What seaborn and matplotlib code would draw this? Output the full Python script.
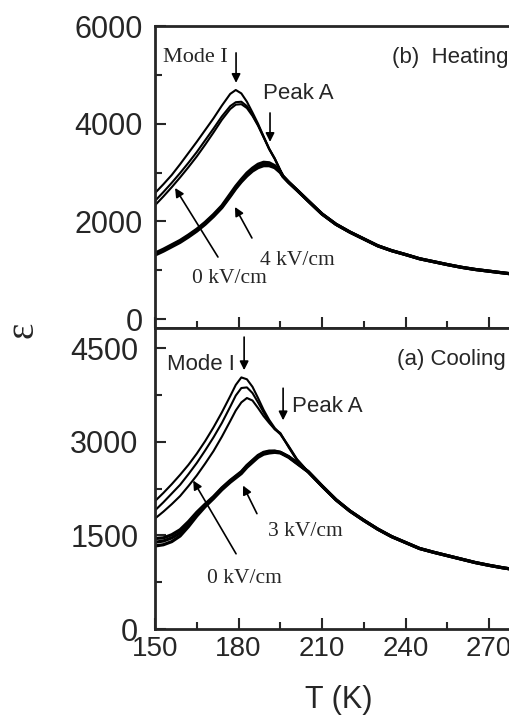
import numpy as np
import matplotlib
matplotlib.use("Agg")
import matplotlib.pyplot as plt
import seaborn as sns

# ---------------- data ----------------
# (b) Heating: rising part, one value per curve and temperature
T_heat = [150, 153, 156, 159, 162, 165, 168, 171, 174, 177, 179, 181, 183, 185, 187, 189, 191, 193, 195]
heat_0a = [2580, 2760, 2950, 3170, 3400, 3630, 3870, 4110, 4370, 4610, 4690, 4620, 4450, 4230, 4000, 3740, 3490, 3290, 3050]
heat_0b = [2420, 2600, 2790, 2990, 3200, 3420, 3660, 3900, 4150, 4360, 4440, 4450, 4360, 4180, 3970, 3730, 3480, 3280, 3040]
heat_0c = [2330, 2510, 2700, 2900, 3110, 3330, 3570, 3820, 4080, 4300, 4390, 4400, 4320, 4160, 3960, 3720, 3480, 3280, 3040]
heat_4a = [1350, 1430, 1520, 1610, 1720, 1840, 1980, 2140, 2320, 2560, 2720, 2860, 2990, 3090, 3170, 3210, 3200, 3140, 3020]
heat_4b = [1330, 1410, 1500, 1590, 1700, 1820, 1960, 2120, 2300, 2530, 2690, 2830, 2950, 3050, 3120, 3160, 3160, 3110, 3010]
heat_4c = [1310, 1390, 1480, 1570, 1680, 1800, 1940, 2100, 2280, 2510, 2670, 2810, 2930, 3030, 3100, 3140, 3140, 3100, 3000]
# common tail after the curves merge
T_heat_tail = [196, 198, 201, 205, 210, 215, 220, 225, 230, 235, 240, 245, 250, 255, 260, 265, 270, 275, 278]
heat_tail = [2920, 2800, 2640, 2420, 2150, 1940, 1780, 1640, 1500, 1400, 1320, 1235, 1175, 1115, 1060, 1015, 980, 945, 925]

# (a) Cooling
T_cool = [150, 153, 156, 159, 162, 165, 168, 171, 174, 177, 179, 181, 183, 185, 187, 189, 191, 193, 195, 198, 201]
cool_0a = [2050, 2180, 2320, 2470, 2630, 2810, 3010, 3230, 3470, 3730, 3910, 4030, 4000, 3880, 3700, 3510, 3350, 3220, 3130, 2930, 2720]
cool_0b = [1900, 2030, 2170, 2310, 2480, 2660, 2860, 3070, 3300, 3560, 3740, 3860, 3870, 3780, 3630, 3470, 3320, 3200, 3120, 2920, 2710]
cool_0c = [1770, 1880, 2000, 2130, 2290, 2460, 2650, 2850, 3080, 3330, 3500, 3630, 3700, 3660, 3540, 3410, 3300, 3200, 3140, 2910, 2700]
cool_3a = [1450, 1460, 1510, 1590, 1720, 1870, 2000, 2120, 2260, 2380, 2450, 2520, 2620, 2700, 2780, 2830, 2850, 2850, 2830, 2760, 2660]
cool_3b = [1390, 1410, 1460, 1540, 1680, 1840, 1980, 2110, 2250, 2370, 2440, 2510, 2610, 2690, 2770, 2820, 2840, 2845, 2830, 2760, 2660]
cool_3c = [1330, 1350, 1400, 1490, 1640, 1810, 1960, 2090, 2230, 2350, 2420, 2490, 2590, 2670, 2750, 2800, 2820, 2830, 2820, 2750, 2650]
T_cool_tail = [205, 210, 215, 220, 225, 230, 235, 240, 245, 250, 255, 260, 265, 270, 275, 278]
cool_tail = [2520, 2290, 2070, 1890, 1740, 1600, 1480, 1385, 1290, 1230, 1175, 1120, 1065, 1020, 980, 960]

x_ticks = [150, 180, 210, 240, 270]
heat_yticks = [0, 2000, 4000, 6000]
cool_yticks = [0, 1500, 3000, 4500]

# ---------------- style ----------------
sns.set_style("ticks")
plt.rcParams['font.family'] = ['Liberation Sans', 'DejaVu Sans']
plt.rcParams['axes.linewidth'] = 2.0

fig = plt.figure(figsize=(5.1, 7.17), dpi=100)
ax_h = fig.add_axes([0.304, 0.5425, 0.696, 0.4212])
ax_c = fig.add_axes([0.304, 0.1227, 0.696, 0.4198], sharex=ax_h)

SERIF = ['Liberation Serif', 'DejaVu Serif']


def draw_group(ax, T, curves, T_tail, tail, lw):
    for c in curves:
        sns.lineplot(x=list(T) + list(T_tail), y=list(c) + list(tail), ax=ax,
                     color='black', lw=lw, estimator=None, sort=False)


draw_group(ax_h, T_heat, [heat_4a, heat_4b, heat_4c], T_heat_tail, heat_tail, 2.3)
draw_group(ax_h, T_heat, [heat_0a, heat_0b, heat_0c], T_heat_tail, heat_tail, 1.5)
draw_group(ax_c, T_cool, [cool_3a, cool_3b, cool_3c], T_cool_tail, cool_tail, 2.3)
draw_group(ax_c, T_cool, [cool_0a, cool_0b, cool_0c], T_cool_tail, cool_tail, 1.5)

# axes
for ax in (ax_h, ax_c):
    ax.set_xlim(150, 277.5)
    ax.spines['right'].set_visible(False)
    ax.set_xlabel('')
    ax.set_ylabel('')
    ax.set_xticks(x_ticks)
    ax.set_xticks([165, 195, 225, 255], minor=True)
    ax.tick_params(which='major', direction='in', length=8, width=1.5)
    ax.tick_params(which='minor', direction='in', length=5, width=1.5)
    ax.tick_params(axis='x', labelsize=20)
    ax.tick_params(axis='y', which='both', right=False, labelsize=22)

ax_h.set_ylim(-184, 6000)
ax_h.set_yticks(heat_yticks)
ax_h.set_yticks([1000, 3000, 5000], minor=True)
ax_h.tick_params(axis='x', which='both', labelbottom=False)
ax_h.tick_params(axis='y', pad=9)

ax_c.set_ylim(0, 4821)
ax_c.set_yticks(cool_yticks)
ax_c.set_yticks([750, 2250, 3750], minor=True)
ax_c.tick_params(axis='y', pad=12)
ax_c.tick_params(axis='x', pad=5)

arrow = dict(arrowstyle='-|>', color='black', lw=1.2, mutation_scale=13,
             shrinkA=0, shrinkB=0)

# (b) heating annotations
ax_h.text(152.9, 5266, 'Mode I', family=SERIF, fontsize=16, va='baseline')
ax_h.annotate('', xy=(179.1, 4836), xytext=(179.1, 5450), arrowprops=arrow)
ax_h.text(235.2, 5245, '(b)  Heating', fontsize=16, va='baseline')
ax_h.text(188.8, 4508, 'Peak A', fontsize=16, va='baseline')
ax_h.annotate('', xy=(191.3, 3627), xytext=(191.3, 4220), arrowprops=arrow)
ax_h.text(163.3, 738, '0 kV/cm', family=SERIF, fontsize=15.5, va='baseline')
ax_h.annotate('', xy=(157.2, 2684), xytext=(172.6, 1270), arrowprops=arrow)
ax_h.text(187.7, 1106, '4 kV/cm', family=SERIF, fontsize=15.5, va='baseline')
ax_h.annotate('', xy=(178.7, 2295), xytext=(184.8, 1660), arrowprops=arrow)

# (a) cooling annotations
ax_c.text(154.3, 4146, 'Mode I', fontsize=16, va='baseline')
ax_c.annotate('', xy=(182.0, 4146), xytext=(182.0, 4676), arrowprops=arrow)
ax_c.text(236.9, 4226, '(a) Cooling', fontsize=16, va='baseline')
ax_c.text(199.2, 3471, 'Peak A', fontsize=16, va='baseline')
ax_c.annotate('', xy=(196.0, 3343), xytext=(196.0, 3857), arrowprops=arrow)
ax_c.text(190.6, 1494, '3 kV/cm', family=SERIF, fontsize=15.5, va='baseline')
ax_c.annotate('', xy=(181.6, 2298), xytext=(186.6, 1848), arrowprops=arrow)
ax_c.text(168.7, 739, '0 kV/cm', family=SERIF, fontsize=15.5, va='baseline')
ax_c.annotate('', xy=(163.7, 2378), xytext=(179.1, 1205), arrowprops=arrow)

# axis titles
fig.text(0.045, 0.54, 'ε', family=SERIF, fontsize=28, rotation=90, ha='center', va='center')
fig.text(0.665, 0.024, 'T (K)', fontsize=22, ha='center', va='center')

fig.savefig('out.png', dpi=100)
